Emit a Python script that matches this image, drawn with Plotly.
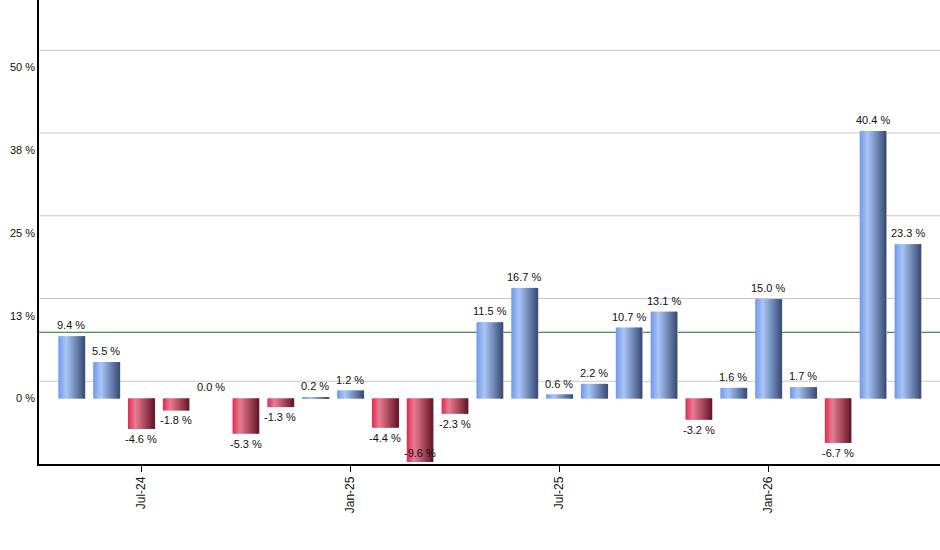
import plotly.graph_objects as go

# monthly change, May-24 .. May-26
months = ["May-24", "Jun-24", "Jul-24", "Aug-24", "Sep-24", "Oct-24", "Nov-24", "Dec-24",
          "Jan-25", "Feb-25", "Mar-25", "Apr-25", "May-25", "Jun-25", "Jul-25", "Aug-25",
          "Sep-25", "Oct-25", "Nov-25", "Dec-25", "Jan-26", "Feb-26", "Mar-26", "Apr-26",
          "May-26"]
values = [9.4, 5.5, -4.6, -1.8, 0.0, -5.3, -1.3, 0.2, 1.2, -4.4, -9.6, -2.3, 11.5, 16.7,
          0.6, 2.2, 10.7, 13.1, -3.2, 1.6, 15.0, 1.7, -6.7, 40.4, 23.3]
shown_months = ["Jul-24", "Jan-25", "Jul-25", "Jan-26"]
y_tick_vals = [0, 12.5, 25, 37.5, 50]
y_tick_text = ["0 %", "13 %", "25 %", "38 %", "50 %"]
threshold = 10.0

Y_MIN, Y_MAX = -9.9, 60.2
GRID_STEP = 12.5
BAR_W = 0.75
N_STRIPS = 26          # roughly one strip per pixel of bar width
FONT = "Liberation Sans, Arial, sans-serif"

blue_stops = [(0.0, (111, 153, 233)), (0.3, (170, 198, 247)), (1.0, (58, 78, 120))]
red_stops = [(0.0, (220, 43, 80)), (0.28, (233, 124, 147)), (1.0, (106, 22, 40))]


def grad(stops, t):
    for (p0, c0), (p1, c1) in zip(stops[:-1], stops[1:]):
        if t <= p1:
            f = (t - p0) / (p1 - p0)
            return "rgb(%d,%d,%d)" % tuple(round(a + (b - a) * f) for a, b in zip(c0, c1))
    return "rgb(%d,%d,%d)" % stops[-1][1]


fig = go.Figure()

# thin grey shadow on the right edge of each bar
fig.add_trace(go.Bar(x=months, y=values, width=0.05, offset=BAR_W / 2 - 0.02,
                     marker=dict(color="#a9a9a9", line_width=0), hoverinfo="skip"))

# bars drawn as overlapping vertical strips to fake the cylinder gradient
sw = BAR_W / N_STRIPS
for i in range(N_STRIPS):
    t = (i + 0.5) / N_STRIPS
    cols = [grad(blue_stops if v >= 0 else red_stops, t) for v in values]
    w = sw if i == N_STRIPS - 1 else sw * 2
    fig.add_trace(go.Bar(x=months, y=values, width=w, offset=-BAR_W / 2 + i * sw,
                         marker=dict(color=cols, line_width=0), hoverinfo="skip"))

# gridlines start from the axis minimum (as in the source chart)
shapes = []
g = Y_MIN + GRID_STEP
while g < Y_MAX:
    shapes.append(dict(type="line", xref="paper", x0=0, x1=1, yref="y", y0=g, y1=g,
                       line=dict(color="#c8c8c8", width=1), layer="below"))
    g += GRID_STEP
shapes.append(dict(type="line", xref="paper", x0=0, x1=1, yref="y", y0=threshold, y1=threshold,
                   line=dict(color="#1f6f1f", width=1), layer="below"))

annotations = []
for m, v in zip(months, values):
    if v >= 0:
        annotations.append(dict(x=m, y=v, text=f"{v:.1f} %", showarrow=False,
                                yanchor="bottom", yshift=3))
    else:
        yy = max(v, Y_MIN + 3.2)
        annotations.append(dict(x=m, y=yy, text=f"{v:.1f} %", showarrow=False,
                                yanchor="top", yshift=-2))

fig.update_layout(
    width=940, height=550,
    margin=dict(l=39, r=0, t=0, b=86),
    paper_bgcolor="white", plot_bgcolor="white",
    barmode="overlay", showlegend=False,
    font=dict(family=FONT, size=11, color="#111111"),
    shapes=shapes, annotations=annotations,
)
fig.update_xaxes(type="category", categoryorder="array", categoryarray=months,
                 range=[-0.93, len(months) - 1 + 0.93],
                 tickmode="array", tickvals=shown_months, ticktext=shown_months,
                 tickangle=-90, ticks="outside", ticklen=6, tickcolor="black",
                 showline=True, linecolor="black", linewidth=1.5,
                 showgrid=False, tickfont=dict(size=12, color="#111111"))
fig.update_yaxes(range=[Y_MIN, Y_MAX], tickmode="array", tickvals=y_tick_vals,
                 ticktext=y_tick_text, ticks="", showgrid=False, zeroline=False,
                 showline=True, linecolor="black", linewidth=1.5,
                 tickfont=dict(size=11, color="#111111"))

# the page's default 8px body margin would push the chart off the window
fig.write_html("out.html", config={"displayModeBar": False},
               post_script="document.body.style.margin='0';")
